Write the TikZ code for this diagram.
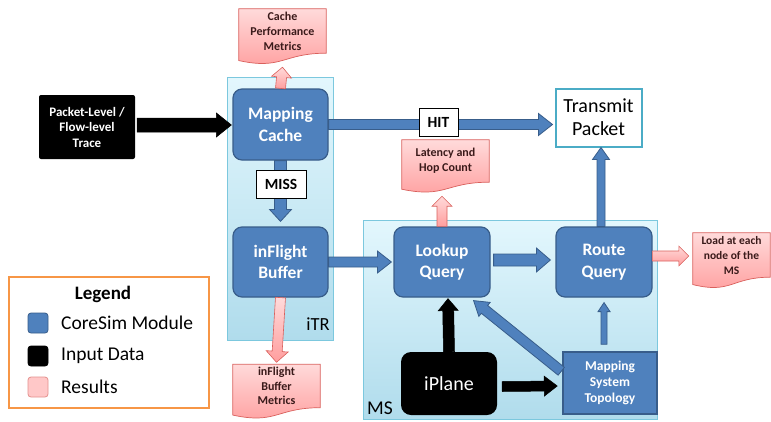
\documentclass[tikz,border=0pt]{standalone}
\usepackage{fontspec}
\setmainfont{Carlito}
\usetikzlibrary{calc}
\definecolor{modfill}{HTML}{4F81BD}
\definecolor{modline}{HTML}{385D8A}
\definecolor{pinktop}{HTML}{FFDADA}
\definecolor{pinkbot}{HTML}{FF9E9E}
\definecolor{pinkline}{HTML}{D9605C}
\definecolor{ctop}{HTML}{E3F7FD}
\definecolor{cbot}{HTML}{B0DCEC}
\definecolor{cline}{HTML}{7CC8DE}
\definecolor{txline}{HTML}{4BACC6}
\definecolor{legline}{HTML}{F79646}
\definecolor{doctext}{HTML}{3A1A1A}
\pgfdeclarelayer{bg}
\pgfsetlayers{bg,main}
\newcommand\fatarr[6]{%
  \path (#2) coordinate (fa-s) (#3) coordinate (fa-e);
  \path ($(fa-e)!#6!(fa-s)$) coordinate (fa-h);
  \draw[#1] ($(fa-s)!#4!90:(fa-e)$) -- ($(fa-h)!#4!-90:(fa-s)$) -- ($(fa-h)!#5!-90:(fa-s)$) -- (fa-e)
    -- ($(fa-h)!#5!90:(fa-s)$) -- ($(fa-h)!#4!90:(fa-s)$) -- ($(fa-s)!#4!-90:(fa-e)$) -- cycle;}
\newcommand\docshape[2]{%
  \begin{pgfonlayer}{bg}
  \path[docsty] (#1.north west) -- (#1.north east) -- (#1.south east)
    .. controls (#1.south) and ($(#1.south)+(0,1.54*#2)$) .. ($(#1.south west)+(0,0.67*#2)$) -- cycle;
  \end{pgfonlayer}}
\begin{document}
\begin{tikzpicture}[x=1pt,y=-1pt,
  cont/.style={draw=cline, line width=1pt, top color=ctop, bottom color=cbot, inner sep=0},
  mod/.style={rounded corners=9pt, fill=modfill, draw=modline, line width=1.2pt, text=white,
    font=\bfseries\fontsize{17.5}{21.5}\selectfont, align=center, inner sep=0},
  docbox/.style={inner sep=0, align=center, text=doctext, font=\bfseries\fontsize{12}{15}\selectfont},
  docsty/.style={draw=pinkline, line width=0.7pt, top color=pinktop, bottom color=pinkbot},
  lbl/.style={draw=black, fill=white, line width=0.6pt, inner sep=0, font=\bfseries\fontsize{15.5}{17}\selectfont},
  blu/.style={fill=modfill, draw=modline, line width=0.8pt},
  blk/.style={fill=black, draw=black, line width=0.5pt},
  pnk/.style={top color=pinktop, bottom color=pinkbot, draw=pinkline, line width=0.6pt},
  legsq/.style={minimum size=20pt, inner sep=0, rounded corners=3pt, line width=0.8pt},
  legtxt/.style={anchor=west, inner sep=0, font=\fontsize{19.5}{22}\selectfont}
  ]
\useasboundingbox (0,0) rectangle (771,421);
% containers
\node[cont, minimum width=106pt, minimum height=263pt] (itr) at (280,208.5) {};
\node[cont, minimum width=294pt, minimum height=199pt] (ms) at (510,319.5) {};
\node[inner sep=0, font=\fontsize{18.5}{20}\selectfont] (itrl) at (318,324.5) {iTR};
\node[inner sep=0, font=\fontsize{19.5}{21}\selectfont] (msl) at (380,408) {MS};
% nodes
\node[mod, minimum width=95pt, minimum height=71pt] (cache) at (280.5,124.5) {Mapping\\Cache};
\node[mod, minimum width=95pt, minimum height=70pt] (buffer) at (280.5,262) {inFlight\\Buffer};
\node[mod, minimum width=96pt, minimum height=70pt] (lookup) at (442,262) {Lookup\\Query};
\node[mod, minimum width=96pt, minimum height=70pt] (route) at (604,262) {Route\\Query};
\node[draw=txline, line width=2pt, fill=white, minimum width=86pt, minimum height=58pt, inner sep=0,
  align=center, font=\fontsize{20}{23}\selectfont] (tx) at (598.5,117.5) {Transmit\\Packet};
\node[fill=black, rounded corners=2pt, minimum width=96pt, minimum height=64pt, inner sep=0, text=white,
  align=center, font=\bfseries\fontsize{13}{15.5}\selectfont] (trace) at (87,127) {Packet-Level /\\Flow-level\\Trace};
\node[fill=black, rounded corners=10pt, minimum width=96pt, minimum height=63pt, inner sep=0, text=white,
  font=\fontsize{20}{22}\selectfont] (iplane) at (449,383.5) {iPlane};
\node[fill=modfill, draw=modline, line width=1.5pt, minimum width=94pt, minimum height=62pt, inner sep=0,
  text=white, align=center, font=\bfseries\fontsize{13.5}{16}\selectfont] (mst) at (610,383) {Mapping\\System\\Topology};
% result documents
\node[docbox, minimum width=87pt, minimum height=44pt] (cpm) at (282.5,31) {Cache\\Performance\\Metrics};
\docshape{cpm}{11}
\node[docbox, minimum width=87pt, minimum height=42pt] (lat) at (445.5,161) {Latency and\\Hop Count};
\docshape{lat}{10.5}
\node[docbox, minimum width=77pt, minimum height=44pt, font=\bfseries\fontsize{11.5}{15}\selectfont] (load) at (731.5,255) {Load at each\\node of the\\MS};
\docshape{load}{11}
\node[docbox, minimum width=87pt, minimum height=43pt, font=\bfseries\fontsize{12}{14.5}\selectfont] (ibm) at (276.5,386) {inFlight\\Buffer\\Metrics};
\docshape{ibm}{11}
% arrows
\fatarr{blk}{$(trace.east)+(2,-2)$}{$(trace.east -| cache.west)+(-1,-2)$}{7pt}{12pt}{15pt}
\fatarr{pnk}{cache.north}{$(cpm.south)+(0,14)$}{5pt}{10pt}{10pt}
\fatarr{blu}{cache.south}{$(buffer.north)+(0,-5)$}{6pt}{11pt}{12pt}
\fatarr{blu}{cache.east}{$(cache.east -| tx.west)+(-2,0)$}{5pt}{11pt}{14pt}
\fatarr{blu}{buffer.east}{$(buffer.east -| lookup.west)+(-2,0)$}{5pt}{11pt}{14pt}
\fatarr{pnk}{buffer.south}{$(ibm.north)+(0,-2)$}{5pt}{11pt}{11pt}
\fatarr{pnk}{lookup.north}{$(lookup.north |- lat.south)+(0,14)$}{5pt}{10pt}{10pt}
\fatarr{blu}{$(lookup.east)+(3,-2)$}{$(route.west)+(-5,-2)$}{6pt}{12pt}{14pt}
\fatarr{blu}{$(route.north)+(-3,0)$}{$(tx.south)+(2.5,0)$}{4pt}{8.5pt}{12pt}
\fatarr{pnk}{$(route.east)+(0,-6)$}{$(load.west |- route.east)+(-4,-6)$}{5pt}{10pt}{10pt}
\fatarr{blk}{$(iplane.north)+(0,0)$}{$(lookup.south)+(6,1)$}{5.5pt}{10pt}{12pt}
\fatarr{blk}{$(iplane.east)+(5,3)$}{$(mst.west)+(-5,3)$}{5pt}{10pt}{13pt}
\fatarr{blu}{$(mst.north)+(-6,-7)$}{$(route.south)+(0,5)$}{3pt}{6pt}{9pt}
\fatarr{blu}{$(mst.north west)+(-1,20)$}{$(lookup.south east)+(-17,3)$}{5pt}{9pt}{14pt}
% labels on arrows
\node[lbl, minimum width=50pt, minimum height=28pt] (miss) at (281,184) {MISS};
\node[lbl, minimum width=39pt, minimum height=28pt] (hit) at (438.5,122) {HIT};
% legend
\node[draw=legline, line width=1.6pt, fill=white, minimum width=200pt, minimum height=131pt, inner sep=0] (legend) at (109,342.5) {};
\node[inner sep=0, font=\bfseries\fontsize{19}{21}\selectfont] (legt) at (103,294) {Legend};
\node[legsq, fill=modfill, draw=modline] (sq1) at (38,323) {};
\node[legsq, fill=black, draw=black] (sq2) at (38,356) {};
\node[legsq, fill=pinktop!70!pinkbot, draw=pinkline!70] (sq3) at (38,387) {};
\node[legtxt] (lt1) at (61,323) {CoreSim Module};
\node[legtxt] (lt2) at (61,356) {Input Data};
\node[legtxt] (lt3) at (61,387) {Results};
\end{tikzpicture}
\end{document}
